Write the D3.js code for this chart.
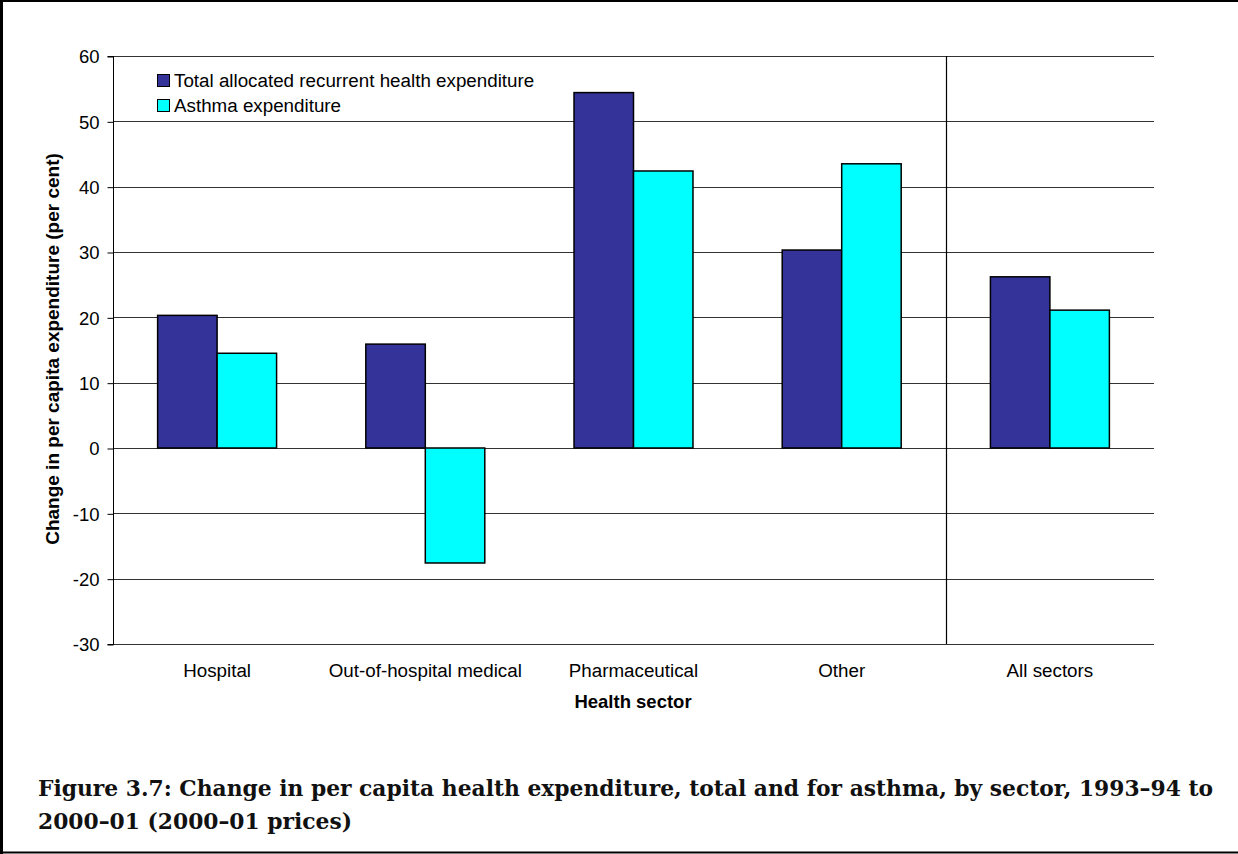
<!DOCTYPE html>
<html><head><meta charset="utf-8">
<script src="https://cdn.jsdelivr.net/npm/d3@7"></script>
<style>
html,body{margin:0;padding:0;background:#fff;}
svg{display:block;}
</style></head>
<body>
<script>
const categories = ["Hospital", "Out-of-hospital medical", "Pharmaceutical", "Other", "All sectors"];
const seriesNames = ["Total allocated recurrent health expenditure", "Asthma expenditure"];
const totalValues = [20.3, 15.9, 54.4, 30.3, 26.2];
const asthmaValues = [14.5, -17.6, 42.4, 43.5, 21.1];
const yTicks = [-30, -20, -10, 0, 10, 20, 30, 40, 50, 60];
const colors = ["#333399", "#00FFFF"];

const W = 1238, H = 854;
const plot = {left: 113, right: 1154, top: 56, bottom: 644};
const SANS = "Liberation Sans, Arial, sans-serif";

const svg = d3.select("body").append("svg").attr("width", W).attr("height", H);

// outer frame (left, top, bottom)
svg.append("line").attr("x1", 1.5).attr("x2", 1.5).attr("y1", 0).attr("y2", H).attr("stroke", "#000").attr("stroke-width", 3);
svg.append("line").attr("x1", 0).attr("x2", W).attr("y1", 1).attr("y2", 1).attr("stroke", "#000").attr("stroke-width", 2);
svg.append("line").attr("x1", 0).attr("x2", W).attr("y1", 852.5).attr("y2", 852.5).attr("stroke", "#000").attr("stroke-width", 2);

const y = d3.scaleLinear().domain([-30, 60]).range([plot.bottom, plot.top]);
const x = d3.scaleBand().domain(categories).range([plot.left, plot.right]).paddingInner(0).paddingOuter(0);
const bw = x.bandwidth() / 3.5;
const xs = d3.scaleBand().domain([0, 1]).range([0.75 * bw, 2.75 * bw]);

// gridlines
svg.append("g").selectAll("line").data(yTicks).join("line")
  .attr("x1", plot.left).attr("x2", plot.right)
  .attr("y1", d => Math.round(y(d)) + 0.5).attr("y2", d => Math.round(y(d)) + 0.5)
  .attr("stroke", "#333").attr("stroke-width", 1);

// y axis
const yAxis = d3.axisLeft(y).tickValues(yTicks).tickSize(6).tickPadding(8).tickFormat(d => String(d));
const ya = svg.append("g").attr("transform", `translate(${plot.left + 0.5},0.5)`).call(yAxis);
ya.select(".domain").attr("stroke", "#000").attr("d", `M-6,${y(60)}H0V${y(-30)}H-6`);
ya.selectAll(".tick line").attr("stroke", "#000");
ya.selectAll("text").attr("font-family", SANS).attr("font-size", 18.5).attr("fill", "#000").attr("dy", "0.34em");

// divider before "All sectors"
const divX = Math.round(x("All sectors")) + 0.5;
svg.append("line").attr("x1", divX).attr("x2", divX).attr("y1", plot.top).attr("y2", plot.bottom)
  .attr("stroke", "#000").attr("stroke-width", 1.2);

// bars
const data = categories.map((c, i) => ({c, vals: [totalValues[i], asthmaValues[i]]}));
const g = svg.append("g");
data.forEach(d => {
  d.vals.forEach((v, s) => {
    const x0 = x(d.c) + xs(s);
    g.append("rect")
      .attr("x", x0).attr("width", xs.bandwidth())
      .attr("y", y(Math.max(0, v))).attr("height", Math.abs(y(v) - y(0)))
      .attr("fill", colors[s]).attr("stroke", "#000").attr("stroke-width", 1.5);
  });
});

// x labels
svg.append("g").selectAll("text").data(categories).join("text")
  .attr("x", d => x(d) + x.bandwidth() / 2).attr("y", 677)
  .attr("text-anchor", "middle")
  .attr("font-family", SANS).attr("font-size", 18.8)
  .text(d => d);

// x title
svg.append("text").attr("x", 633).attr("y", 708).attr("text-anchor", "middle")
  .attr("font-family", SANS).attr("font-size", 18.5).attr("font-weight", "bold")
  .text("Health sector");

// y title
svg.append("text").attr("transform", `translate(59,349) rotate(-90)`).attr("text-anchor", "middle")
  .attr("font-family", SANS).attr("font-size", 19).attr("font-weight", "bold")
  .text("Change in per capita expenditure (per cent)");

// legend
const lg = svg.append("g");
seriesNames.forEach((n, i) => {
  const yy = 74 + i * 25;
  lg.append("rect").attr("x", 157.5).attr("y", yy + 0.5).attr("width", 12).attr("height", 12)
    .attr("fill", colors[i]).attr("stroke", "#000").attr("stroke-width", 1);
  lg.append("text").attr("x", 174).attr("y", yy + 13)
    .attr("font-family", SANS).attr("font-size", 18.8)
    .text(n);
});

// caption
const cap = ["Figure 3.7: Change in per capita health expenditure, total and for asthma, by sector, 1993\u201394 to",
             "2000\u201301 (2000\u201301 prices)"];
cap.forEach((t, i) => {
  svg.append("text").attr("x", 38).attr("y", 796 + i * 33)
    .attr("font-family", "DejaVu Serif, Liberation Serif, serif").attr("font-size", 21.8).attr("font-weight", "bold")
    .attr("fill", "#111")
    .text(t);
});
</script>
</body></html>
